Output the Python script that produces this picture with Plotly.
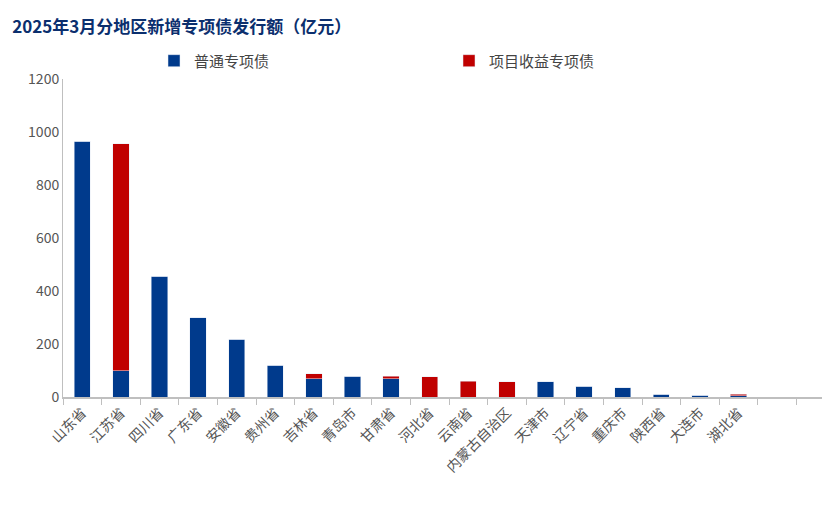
import plotly.graph_objects as go

cats = ["山东省","江苏省","四川省","广东省","安徽省","贵州省","吉林省","青岛市","甘肃省","河北省","云南省","内蒙古自治区","天津市","辽宁省","重庆市","陕西省","大连市","湖北省"," ","  "]
general = [965,100,455,300,218,120,68,79,68,0,0,0,57,41,34,11,7,5,None,None]
project = [0,855,0,0,0,0,20,0,10,76,60,57,0,0,0,0,0,6,None,None]

fig = go.Figure()
fig.add_bar(x=cats, y=general, name="普通专项债", marker_color="#003A8C", width=0.42)
fig.add_bar(x=cats, y=project, name="项目收益专项债", marker_color="#C00000", width=0.42)
fig.update_layout(
    barmode="stack", width=830, height=520, plot_bgcolor="white", paper_bgcolor="white",
    font=dict(family="Noto Sans CJK SC", size=14, color="#555"),
    title=dict(text="<b>2025年3月分地区新增专项债发行额（亿元）</b>", x=0.005, y=0.975,
               font=dict(size=17, color="#0B2F6E")),
    legend=dict(orientation="h", x=0.5, xanchor="center", y=1.005, yanchor="bottom",
                font=dict(size=15, color="#444"), traceorder="normal",
                entrywidth=250),
    margin=dict(l=55, r=3, t=71, b=131),
    showlegend=True,
)
fig.update_xaxes(tickangle=-45, showline=True, linecolor="#bfbfbf", linewidth=2,
                 ticks="outside", ticklen=6, tickcolor="#bfbfbf", tickson="boundaries",
                 tickfont=dict(size=14, color="#555"), automargin=False)
fig.update_yaxes(range=[0,1200], dtick=200, showgrid=False, showline=True,
                 linecolor="#bfbfbf", tickfont=dict(size=14, color="#555"), zeroline=False,
                 automargin=False)
fig.write_html("out.html")
